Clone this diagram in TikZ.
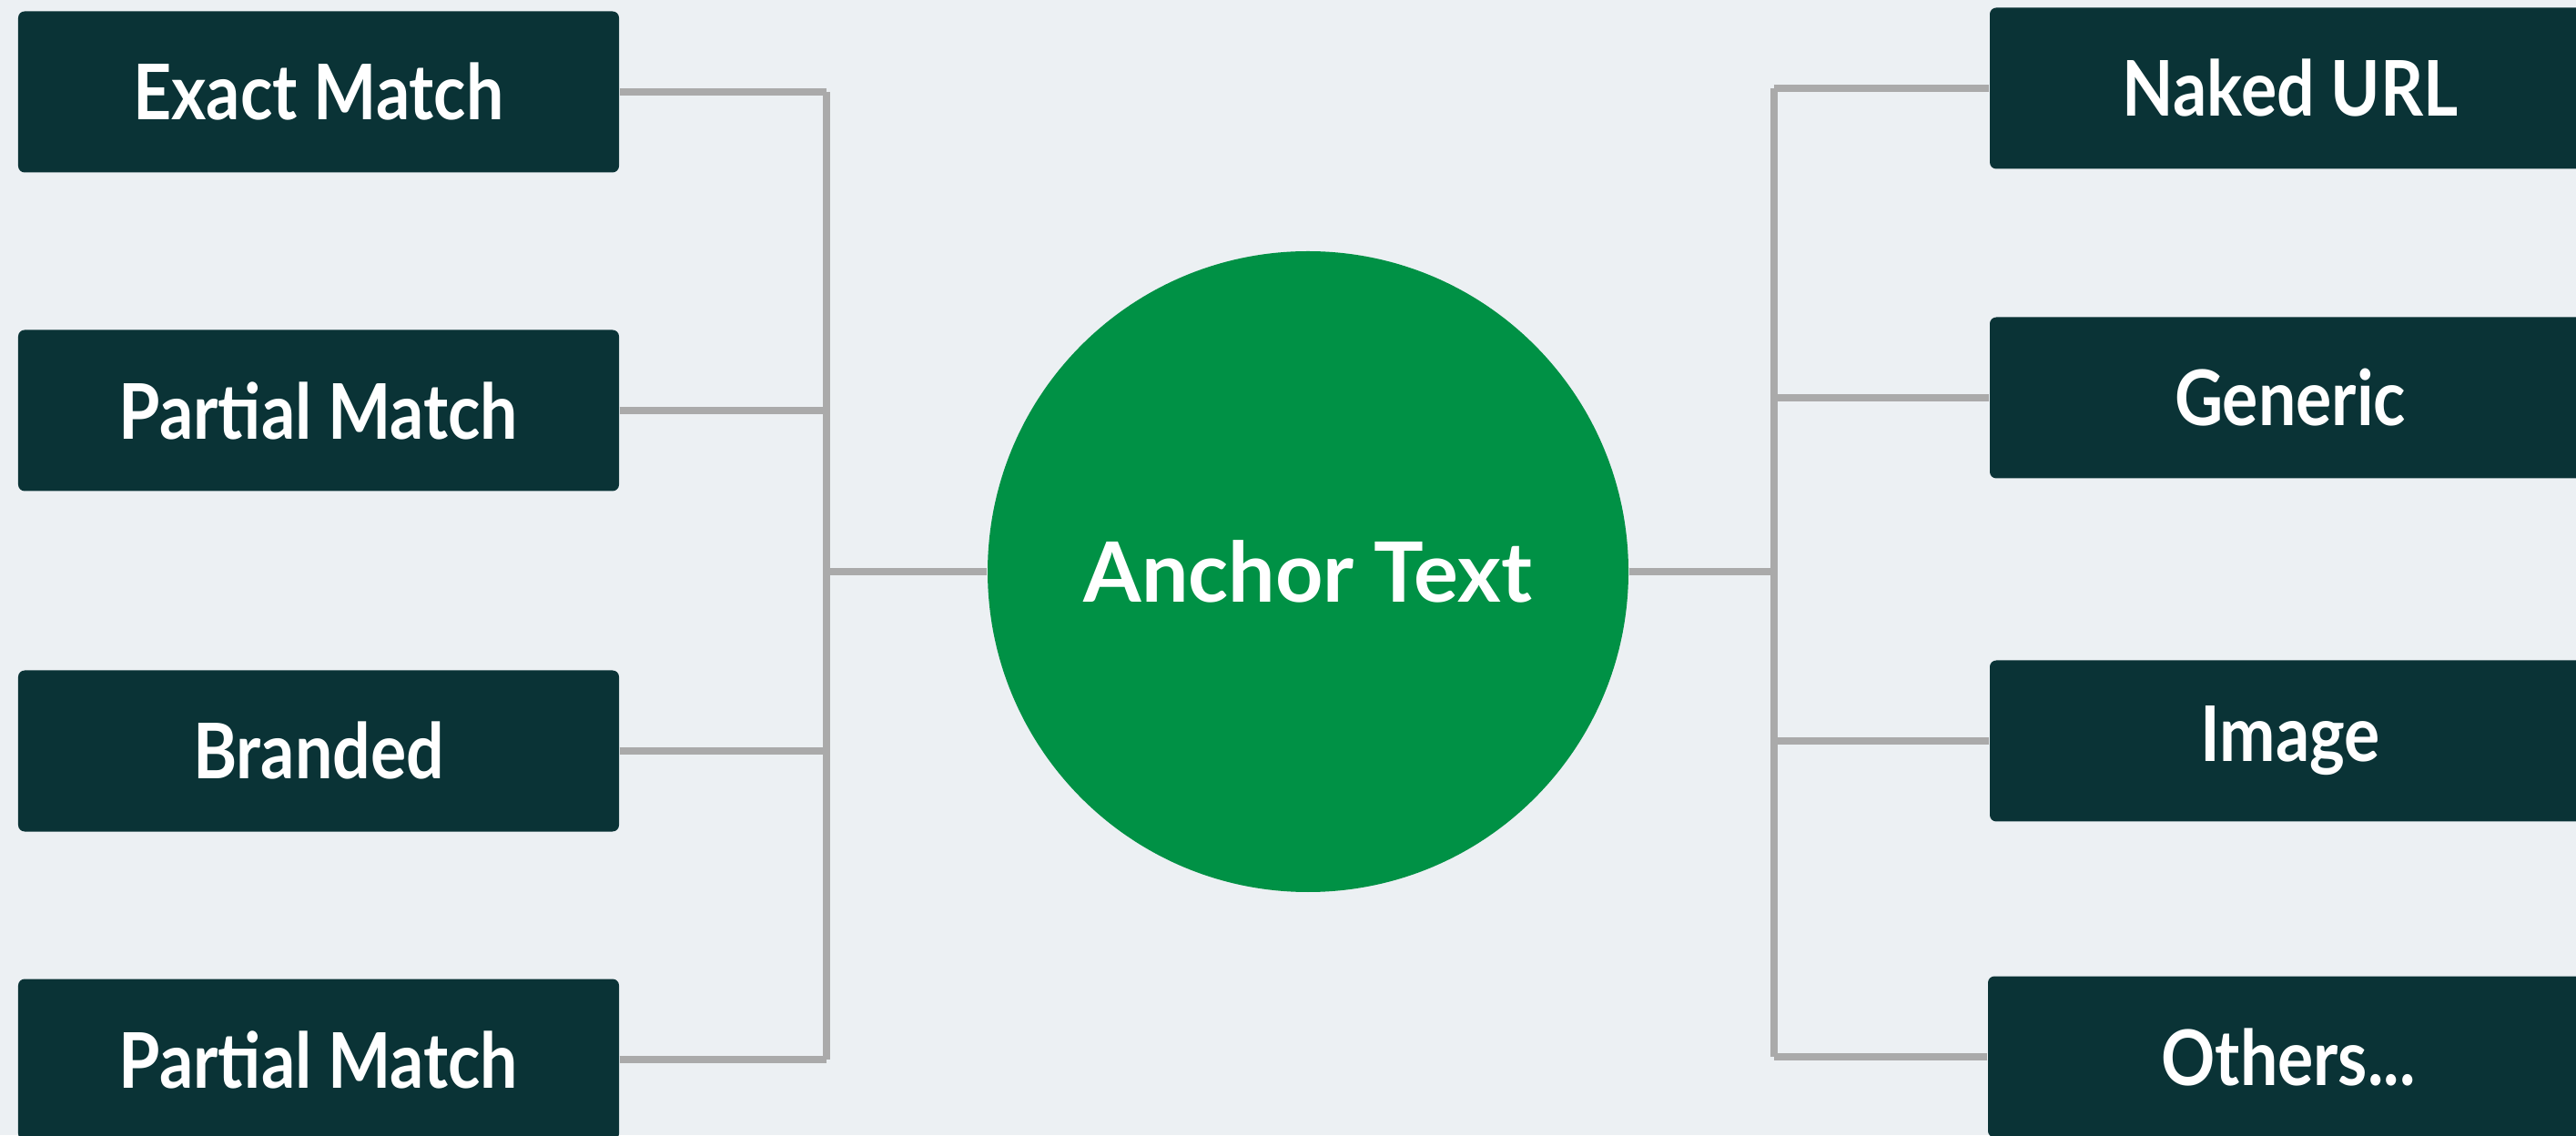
\documentclass[tikz,border=0pt]{standalone}
\usepackage{fontspec}
\usepackage{graphicx}
\setmainfont{Lato}[BoldFont={Lato Bold}]
\usetikzlibrary{positioning}

\definecolor{bgcol}{HTML}{ECF0F3}
\definecolor{boxcol}{HTML}{0A3336}
\definecolor{hubcol}{HTML}{009145}
\definecolor{linecol}{HTML}{AAAAAA}

% box labels are set a bit narrower than Lato
\newcommand{\narrowlabel}[1]{\scalebox{0.87}[1]{#1}}

\tikzset{
  typebox/.style={fill=boxcol, rounded corners=2pt, minimum width=6.6cm,
    minimum height=1.77cm, text=white, font=\bfseries\fontsize{24}{28}\selectfont},
  hub/.style={circle, fill=hubcol, minimum size=7.04cm, text=white,
    font=\bfseries\fontsize{26}{30}\selectfont},
  link/.style={linecol, line width=2.3pt}
}

\begin{document}
\begin{tikzpicture}
  % background and page size
  \fill[bgcol] (0,0) rectangle (28.3,12.47);
  \useasboundingbox (0,0) rectangle (28.3,12.47);

  % centre
  \node[hub] (anchor) at (14.37,6.19) {Anchor Text};

  % left: keyword based types
  \node[typebox] (exact) at (3.50,11.46) {\narrowlabel{Exact Match}};
  \node[typebox] (partA) at (3.50,7.96) {\narrowlabel{Partial Match}};
  \node[typebox] (brand) at (3.50,4.22) {\narrowlabel{Branded}};
  \node[typebox] (partB) at (3.50,0.83) {\narrowlabel{Partial Match}};
  \coordinate (lt) at (9.08,11.46);
  \coordinate (lb) at (9.08,0.83);

  % right: other types
  \node[typebox] (naked) at (25.16,11.50) {\narrowlabel{Naked URL}};
  \node[typebox] (generic) at (25.16,8.10) {\narrowlabel{Generic}};
  \node[typebox] (image) at (25.16,4.33) {\narrowlabel{Image}};
  \node[typebox] (others) at (25.14,0.86) {\narrowlabel{Others...}};
  \coordinate (rt) at (19.49,11.50);
  \coordinate (rb) at (19.49,0.86);

  % left tree
  \draw[link] (lt) -- (lb);
  \foreach \n in {exact, partA, brand, partB}
    \draw[link] (\n.east) -- (\n.east -| lt);
  \draw[link] (anchor.west) -- (anchor.west -| lt);

  % right tree
  \draw[link] (rt) -- (rb);
  \foreach \n in {naked, generic, image, others}
    \draw[link] (\n.west) -- (\n.west -| rt);
  \draw[link] (anchor.east) -- (anchor.east -| rt);
\end{tikzpicture}
\end{document}
